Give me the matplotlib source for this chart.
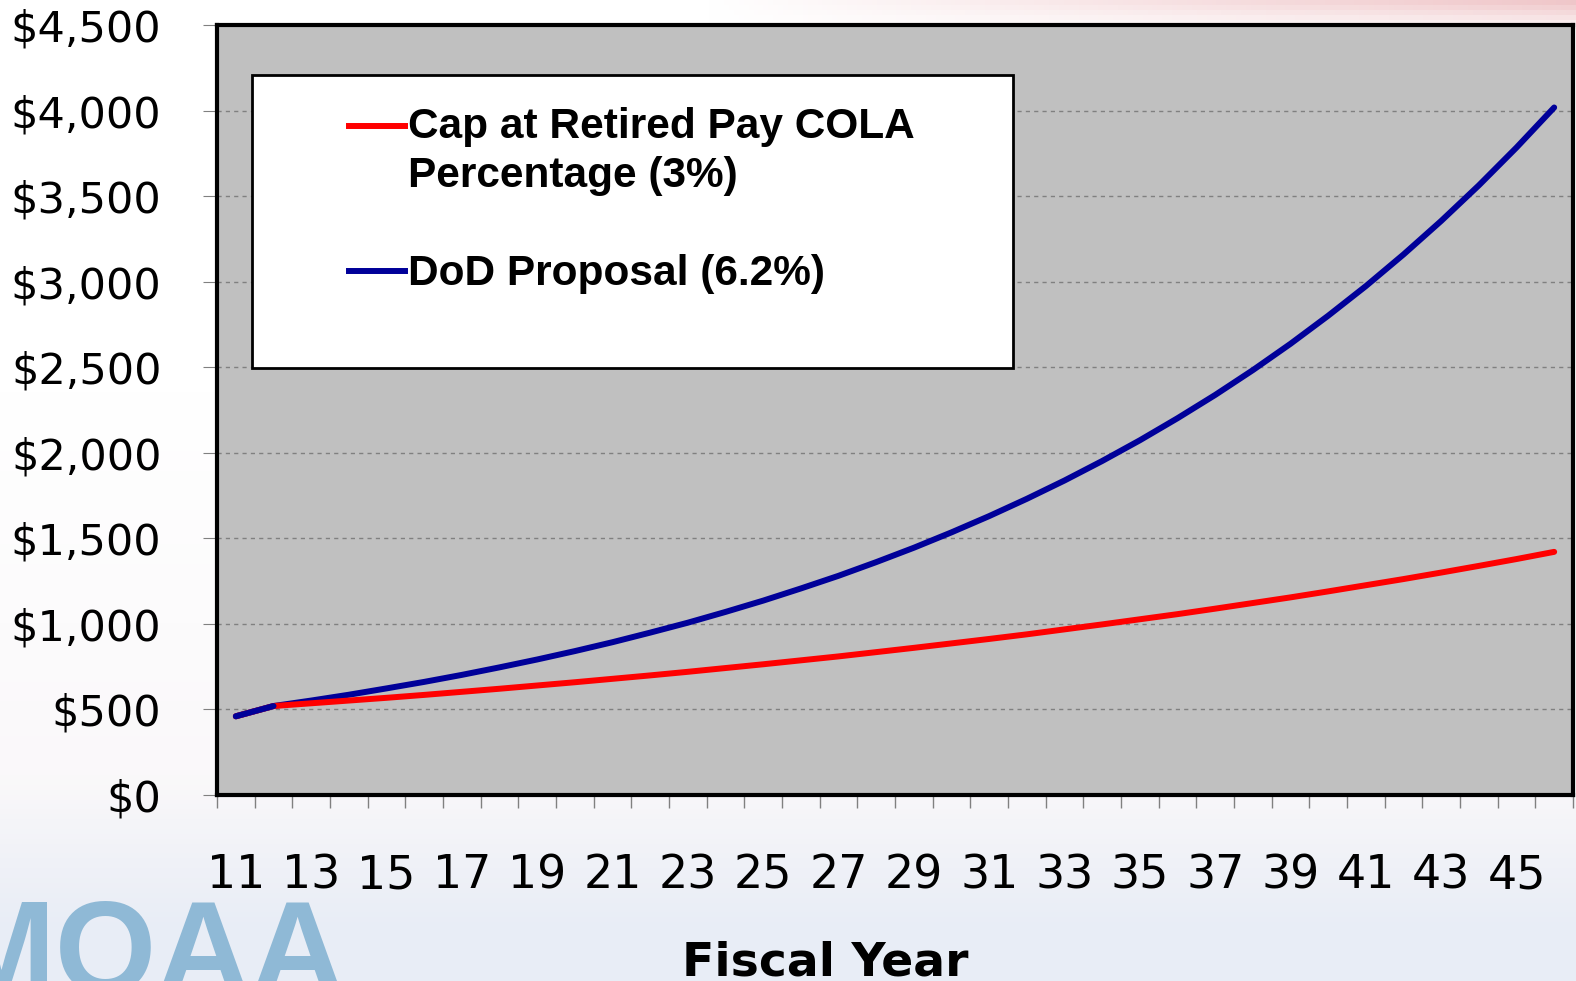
import numpy as np
import matplotlib
matplotlib.use('Agg')
import matplotlib.pyplot as plt
from matplotlib.patches import Rectangle
from matplotlib.lines import Line2D
from matplotlib.ticker import FuncFormatter, MultipleLocator, FixedLocator

# Данные
years = list(range(11, 47))
cola = [460, 520, 536, 552, 568, 585, 603, 621, 640, 659, 679, 699, 720, 742,
        764, 787, 810, 835, 860, 886, 912, 939, 968, 997, 1027, 1057, 1089,
        1122, 1155, 1190, 1226, 1262, 1300, 1339, 1379, 1421]
dod = [460, 520, 552, 586, 623, 661, 702, 746, 792, 841, 893, 949, 1007, 1070,
       1136, 1207, 1281, 1361, 1445, 1535, 1630, 1731, 1838, 1952, 2073, 2202,
       2338, 2483, 2637, 2801, 2974, 3159, 3355, 3563, 3784, 4018]
labels = ['Cap at Retired Pay COLA\nPercentage (3%)', 'DoD Proposal (6.2%)']
colors = ['#ff0000', '#000099']
x_label = 'Fiscal Year'

fig = plt.figure(figsize=(15.76, 9.81), dpi=100)

# фон слайда
h, w = 200, 320
yy = np.linspace(0, 1, h)[:, None]
xx = np.linspace(0, 1, w)[None, :]
top = np.array([1.0, 1.0, 1.0])
mid = np.array([0.97, 0.96, 0.97])
bot = np.array([0.91, 0.93, 0.965])
t = np.clip((yy - 0.4) / 0.6, 0, 1)[..., None]
img = (1 - t) * top + t * mid
t2 = np.clip((yy - 0.8) / 0.15, 0, 1)[..., None]
img = (1 - t2) * img + t2 * bot
img = np.broadcast_to(img, (h, w, 3)).copy()
pink = np.array([0.94, 0.78, 0.79])
a = (np.clip((xx - 0.45) / 0.55, 0, 1) * np.clip(1 - yy / 0.03, 0, 1))[..., None]
img = (1 - a) * img + a * pink
bg = fig.add_axes([0, 0, 1, 1])
bg.imshow(img, aspect='auto', extent=[0, 1, 0, 1], origin='upper')
bg.axis('off')

fig.text(-0.034, -0.012, 'MOAA', fontsize=94, fontweight='bold',
         family='Liberation Sans', color='#8fb9d6', va='baseline', ha='left')

ax = fig.add_axes([0.1377, 0.1896, 0.8604, 0.7849])
ax.set_facecolor('#c0c0c0')

ax.plot(years, dod, color=colors[1], lw=4.3, solid_capstyle='round', zorder=4)
ax.plot(years, cola, color=colors[0], lw=4.3, solid_capstyle='round', zorder=5)
ax.plot(years[:2], dod[:2], color=colors[1], lw=4.3, solid_capstyle='round', zorder=6)

ax.set_xlim(10.5, 46.5)
ax.set_ylim(0, 4500)
ax.yaxis.set_major_locator(MultipleLocator(500))
ax.yaxis.set_major_formatter(FuncFormatter(lambda v, p: '${:,.0f}'.format(v)))
ax.xaxis.set_major_locator(FixedLocator(years[::2]))
ax.xaxis.set_minor_locator(FixedLocator(np.arange(10.5, 47, 1)))
ax.grid(axis='y', color='#808080', ls=(0, (3, 3)), lw=1)
ax.set_axisbelow(True)

ax.tick_params(axis='y', labelsize=31, length=10, color='#808080', pad=30)
ax.tick_params(axis='x', which='major', labelsize=33, length=0, pad=42)
ax.tick_params(axis='x', which='minor', length=9, color='#808080', width=1)
for lab in ax.get_xticklabels() + ax.get_yticklabels():
    lab.set_family('DejaVu Sans')

for s in ax.spines.values():
    s.set_linewidth(3)
    s.set_color('black')

# легенда
ax.add_patch(Rectangle((0.0258, 0.5545), 0.561, 0.3805, transform=ax.transAxes,
                       facecolor='white', edgecolor='black', lw=2, zorder=3))
for yl, yt, lab, c in [(0.8693, 0.8935, labels[0], colors[0]),
                       (0.6805, 0.7025, labels[1], colors[1])]:
    ax.add_line(Line2D([0.0973, 0.1386], [yl, yl], transform=ax.transAxes,
                       color=c, lw=4.3, zorder=4))
    ax.text(0.1409, yt, lab, transform=ax.transAxes, ha='left', va='top',
            fontsize=30.5, fontweight='bold', family='Liberation Sans',
            linespacing=1.3, zorder=4)

fig.text(0.5235, 0.006, x_label, fontsize=34, fontweight='bold',
         family='DejaVu Sans', ha='center', va='baseline')

fig.savefig('out.png', dpi=100)
